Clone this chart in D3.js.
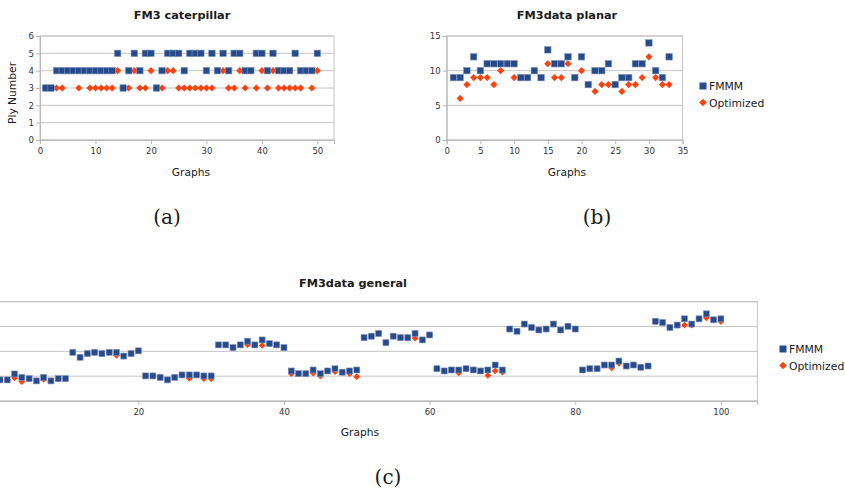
<!DOCTYPE html>
<html>
<head>
<meta charset="utf-8">
<title>FM3 ply numbers</title>
<script src="https://d3js.org/d3.v7.min.js"></script>
<style>
  body { margin: 0; background: #fff; }
  svg text { font-family: "DejaVu Sans", sans-serif; fill: #1a1a1a; }
  .tick text { font-size: 8.5px; fill: #333; }
  .title { font-weight: bold; font-size: 11.3px; }
  .axis-label { font-size: 10.7px; }
  .legend text { font-size: 10.8px; }
  .caption { font-family: "DejaVu Serif", serif !important; font-size: 20px; }
</style>
</head>
<body>
<svg id="chart" width="845" height="490"></svg>
<script>
// series names and colours
var seriesNames = ["FMMM", "Optimized"];
var fmmmColor = "#264b8c", optColor = "#ff420e";

// (a) FM3 caterpillar, graphs 1..50
var catFMMM = [3, 3, 4, 4, 4, 4, 4, 4, 4, 4, 4, 4, 4, 5, 3, 4, 5, 4, 5, 5,
               3, 4, 5, 5, 5, 4, 5, 5, 5, 4, 5, 4, 5, 4, 5, 5, 4, 4, 5, 5,
               4, 5, 4, 4, 4, 5, 4, 4, 4, 5];
var catOpt  = [3, 3, 3, 3, 4, 4, 3, 4, 3, 3, 3, 3, 3, 4, 3, 3, 4, 3, 3, 4,
               3, 3, 4, 4, 3, 3, 3, 3, 3, 3, 3, 4, 4, 3, 3, 4, 3, 4, 3, 4,
               3, 4, 3, 3, 3, 3, 3, 4, 3, 4];
var catXTicks = [0, 10, 20, 30, 40, 50];
var catYTicks = [0, 1, 2, 3, 4, 5, 6];

// (b) FM3data planar, graphs 1..33
var plFMMM = [9, 9, 10, 12, 10, 11, 11, 11, 11, 11, 9, 9, 10, 9, 13, 11, 11,
              12, 9, 12, 8, 10, 10, 11, 8, 9, 9, 11, 11, 14, 10, 9, 12];
var plOpt  = [9, 6, 8, 9, 9, 9, 8, 10, 11, 9, 9, 9, 10, 9, 11, 9, 9,
              11, 9, 10, 8, 7, 8, 8, 8, 7, 8, 8, 9, 12, 9, 8, 8];
var plXTicks = [0, 5, 10, 15, 20, 25, 30, 35];
var plYTicks = [0, 5, 10, 15];

// (c) FM3data general, graphs 1..100 (y labels are cut off in the source)
var genFMMM = [0.85, 0.85, 1.09, 0.95, 0.90, 0.81, 0.95, 0.81, 0.90, 0.90,
               1.96, 1.76, 1.91, 1.96, 1.91, 1.96, 1.96, 1.81, 1.91, 2.02,
               1.01, 1.01, 0.95, 0.85, 0.95, 1.05, 1.05, 1.05, 1.01, 1.01,
               2.26, 2.26, 2.15, 2.26, 2.41, 2.26, 2.46, 2.31, 2.26, 2.15,
               1.21, 1.10, 1.10, 1.25, 1.10, 1.21, 1.30, 1.16, 1.21, 1.25,
               2.55, 2.61, 2.72, 2.35, 2.61, 2.55, 2.55, 2.72, 2.46, 2.66,
               1.30, 1.21, 1.25, 1.25, 1.30, 1.25, 1.21, 1.25, 1.45, 1.25,
               2.90, 2.81, 3.10, 2.96, 2.86, 2.90, 3.10, 2.86, 3.01, 2.90,
               1.25, 1.30, 1.30, 1.45, 1.45, 1.61, 1.41, 1.45, 1.36, 1.41,
               3.21, 3.16, 2.96, 3.06, 3.31, 3.10, 3.31, 3.51, 3.27, 3.31];
var genOpt  = [0.85, 0.85, 0.93, 0.78, 0.90, 0.81, 0.87, 0.81, 0.90, 0.90,
               1.96, 1.76, 1.91, 1.96, 1.91, 1.96, 1.84, 1.81, 1.91, 2.02,
               1.01, 1.01, 0.95, 0.85, 0.95, 1.05, 0.91, 1.05, 0.90, 0.90,
               2.26, 2.26, 2.15, 2.26, 2.27, 2.26, 2.24, 2.31, 2.26, 2.15,
               1.10, 1.10, 1.10, 1.12, 1.01, 1.21, 1.18, 1.16, 1.10, 0.98,
               2.55, 2.61, 2.72, 2.35, 2.61, 2.55, 2.55, 2.53, 2.46, 2.66,
               1.30, 1.21, 1.25, 1.13, 1.30, 1.25, 1.21, 1.03, 1.21, 1.16,
               2.90, 2.81, 3.10, 2.96, 2.86, 2.90, 3.10, 2.86, 3.01, 2.90,
               1.25, 1.30, 1.30, 1.45, 1.34, 1.52, 1.41, 1.45, 1.36, 1.41,
               3.21, 3.16, 2.96, 3.06, 3.06, 3.06, 3.31, 3.35, 3.27, 3.20];
// the 0 tick and the y labels sit left of the visible crop
var genXTicks = [20, 40, 60, 80, 100];
var genYTicks = [0, 1, 2, 3, 4];

var svg = d3.select("#chart");

function diamond(r) {
    return "M0," + (-r) + "L" + r + ",0L0," + r + "L" + (-r) + ",0Z";
}

function draw(cfg) {
    var x = d3.scaleLinear().domain(cfg.xDomain).range([cfg.left, cfg.right]);
    var y = d3.scaleLinear().domain(cfg.yDomain).range([cfg.bottom, cfg.top]);
    var g = svg.append("g");

    // horizontal grid lines
    g.selectAll(".grid").data(cfg.yTicks).enter().append("line")
        .attr("x1", cfg.left).attr("x2", cfg.right)
        .attr("y1", function (d) { return y(d); })
        .attr("y2", function (d) { return y(d); })
        .attr("stroke", "#c4c4c4").attr("stroke-width", 1);

    // plot frame
    g.append("rect")
        .attr("x", cfg.left).attr("y", cfg.top)
        .attr("width", cfg.right - cfg.left).attr("height", cfg.bottom - cfg.top)
        .attr("fill", "none").attr("stroke", "#c4c4c4");

    var xAxis = g.append("g")
        .attr("transform", "translate(0," + cfg.bottom + ")")
        .call(d3.axisBottom(x).tickValues(cfg.xTicks).tickFormat(d3.format("d"))
            .tickSize(4).tickPadding(4));
    var yAxis = g.append("g")
        .attr("transform", "translate(" + cfg.left + ",0)")
        .call(d3.axisLeft(y).tickValues(cfg.yTicks)
            .tickFormat(cfg.hideYLabels ? function () { return ""; } : d3.format("d"))
            .tickSize(4).tickPadding(2));
    [xAxis, yAxis].forEach(function (a) {
        a.select(".domain").attr("stroke", "#b8b8b8");
        a.selectAll(".tick line").attr("stroke", "#b8b8b8");
    });

    // Optimized drawn first, FMMM on top
    g.selectAll(".opt").data(cfg.opt).enter().append("path")
        .attr("d", diamond(cfg.dr))
        .attr("transform", function (d, i) { return "translate(" + x(i + 1) + "," + y(d) + ")"; })
        .attr("fill", optColor);
    g.selectAll(".fmmm").data(cfg.fmmm).enter().append("rect")
        .attr("x", function (d, i) { return x(i + 1) - cfg.sq / 2; })
        .attr("y", function (d) { return y(d) - cfg.sq / 2; })
        .attr("width", cfg.sq).attr("height", cfg.sq)
        .attr("fill", fmmmColor)
        .attr("stroke", "#8296bd").attr("stroke-width", 0.6);

    g.append("text").attr("class", "title")
        .attr("x", cfg.titleX).attr("y", cfg.titleY)
        .attr("text-anchor", "middle").text(cfg.title);
    g.append("text").attr("class", "axis-label")
        .attr("x", cfg.xLabelX).attr("y", cfg.xLabelY)
        .attr("text-anchor", "middle").text("Graphs");
    if (cfg.yLabel) {
        g.append("text").attr("class", "axis-label")
            .attr("transform", "translate(" + cfg.yLabelX + "," + cfg.yLabelY + ") rotate(-90)")
            .attr("text-anchor", "middle").text(cfg.yLabel);
    }
    if (cfg.legend) {
        var lg = g.append("g").attr("class", "legend")
            .attr("transform", "translate(" + cfg.legend[0] + "," + cfg.legend[1] + ")");
        lg.append("rect").attr("x", -3.5).attr("y", -3.5).attr("width", 7).attr("height", 7)
            .attr("fill", fmmmColor);
        lg.append("path").attr("d", diamond(3.8)).attr("transform", "translate(0,16.5)")
            .attr("fill", optColor);
        lg.selectAll("text").data(seriesNames).enter().append("text")
            .attr("x", 6).attr("y", function (d, i) { return 4.2 + i * 16.5; })
            .text(function (d) { return d; });
    }
    g.append("text").attr("class", "caption")
        .attr("x", cfg.capX).attr("y", cfg.capY)
        .attr("text-anchor", "middle").text(cfg.caption);
}

draw({
    fmmm: catFMMM, opt: catOpt, xDomain: [0, 53], yDomain: [0, 6],
    xTicks: catXTicks, yTicks: catYTicks,
    left: 40, right: 334, top: 36, bottom: 140, sq: 6.5, dr: 3.6,
    title: "FM3 caterpillar", titleX: 182, titleY: 18.5,
    xLabelX: 191, xLabelY: 176, yLabel: "Ply Number", yLabelX: 16, yLabelY: 93,
    caption: "(a)", capX: 167, capY: 224
});

draw({
    fmmm: plFMMM, opt: plOpt, xDomain: [0, 35], yDomain: [0, 15],
    xTicks: plXTicks, yTicks: plYTicks,
    left: 446.7, right: 682.6, top: 36, bottom: 140, sq: 6.5, dr: 3.6,
    title: "FM3data planar", titleX: 567, titleY: 18.5,
    xLabelX: 567, xLabelY: 176, legend: [703, 86],
    caption: "(b)", capX: 597, capY: 224
});

draw({
    fmmm: genFMMM, opt: genOpt, xDomain: [0, 105], yDomain: [0, 4],
    xTicks: genXTicks, yTicks: genYTicks, hideYLabels: true,
    left: -7.3, right: 757.3, top: 301.7, bottom: 401, sq: 6, dr: 3.4,
    title: "FM3data general", titleX: 353, titleY: 287,
    xLabelX: 360, xLabelY: 436, legend: [783, 349],
    caption: "(c)", capX: 388, capY: 484
});
</script>
</body>
</html>
